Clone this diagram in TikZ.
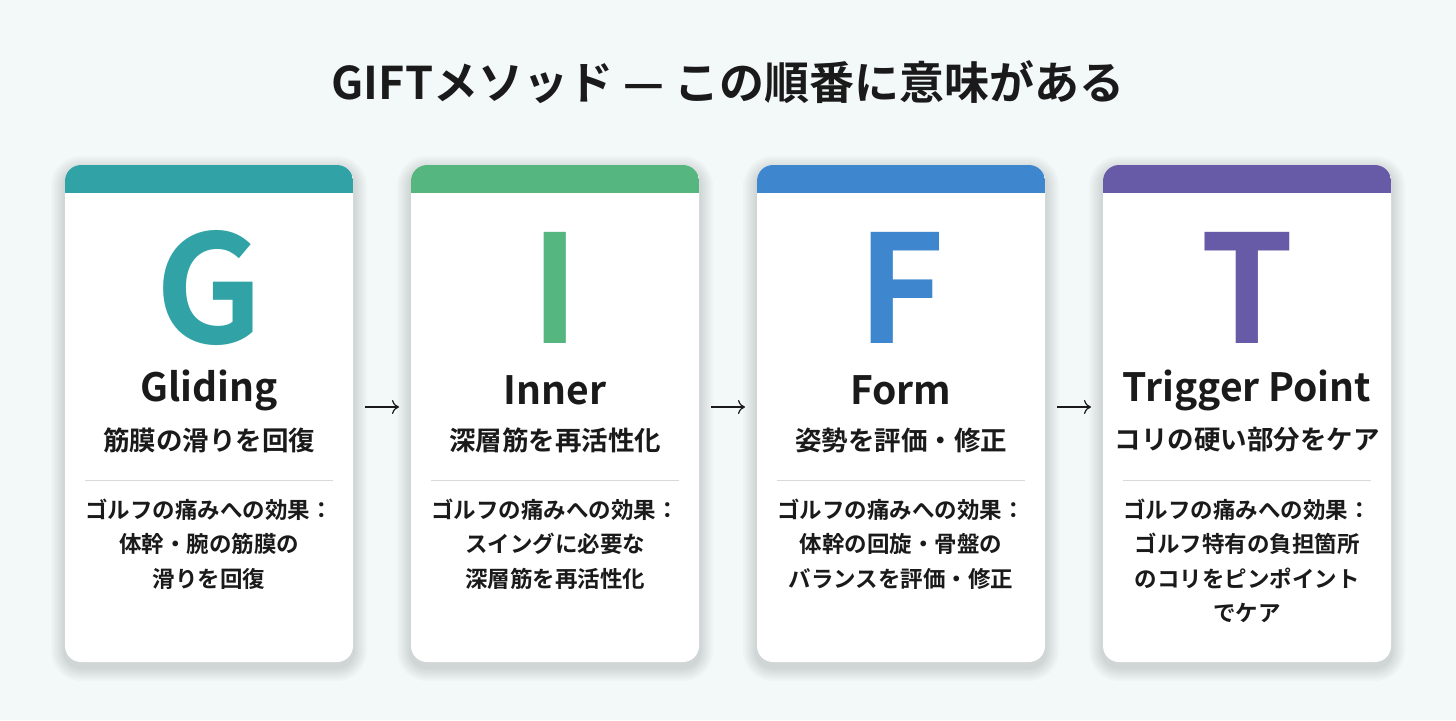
\documentclass[tikz,border=0pt]{standalone}
\usepackage{fontspec}
\setmainfont{Noto Sans CJK JP}[BoldFont={* Bold}]
\usetikzlibrary{arrows.meta}
\definecolor{bg}{HTML}{F3F8F9}
\definecolor{cG}{HTML}{31A3A6}
\definecolor{cI}{HTML}{55B77F}
\definecolor{cF}{HTML}{3E87CF}
\definecolor{cT}{HTML}{675AA6}
\definecolor{txt}{HTML}{1A1A1A}
\tikzset{
 card/.style={fill=white},
 shadowlayer/.style={fill=black,fill opacity=0.018},
 bigletter/.style={font=\fontsize{150}{150}\selectfont\bfseries},
 cardname/.style={font=\fontsize{39}{44}\selectfont\bfseries,text=txt},
 cardsub/.style={font=\fontsize{26.5}{30}\selectfont\bfseries,text=txt},
 cardeff/.style={font=\fontsize{22.5}{34.5}\selectfont\bfseries,text=txt,align=center,anchor=north},
 arr/.style={-{To[length=7pt,width=14pt]},line width=1.2pt,draw=txt}
}
\begin{document}
\begin{tikzpicture}[x=1pt,y=-1pt]
\fill[bg] (0,0) rectangle (1456,720);
\useasboundingbox (0,0) rectangle (1456,720);
\node[font=\fontsize{45}{50}\selectfont\bfseries,text=txt] (title) at (728,82) {GIFTメソッド — この順番に意味がある};
\foreach \i/\x/\c/\L/\N/\S/\E in {
 1/65/cG/G/Gliding/筋膜の滑りを回復/{ゴルフの痛みへの効果：\\体幹・腕の筋膜の\\滑りを回復},
 2/411/cI/I/Inner/深層筋を再活性化/{ゴルフの痛みへの効果：\\スイングに必要な\\深層筋を再活性化},
 3/757/cF/F/Form/姿勢を評価・修正/{ゴルフの痛みへの効果：\\体幹の回旋・骨盤の\\バランスを評価・修正},
 4/1103/cT/T/Trigger Point/コリの硬い部分をケア/{ゴルフの痛みへの効果：\\ゴルフ特有の負担箇所\\のコリをピンポイント\\でケア}}{
 \foreach \k in {2,4,...,14}{
  \fill[shadowlayer,rounded corners=16pt+\k pt] (\x-\k,165-\k+5) rectangle (\x+288+\k,662+\k+5);
 }
 \path[card,rounded corners=16pt] (\x,165) rectangle ++(288,497);
 \begin{scope}
  \clip[rounded corners=16pt] (\x,165) rectangle ++(288,497);
  \fill[\c] (\x,160) rectangle ++(288,33);
 \end{scope}
 \node[bigletter,text=\c] (L\i) at (\x+144,288) {\L};
 \node[cardname] (N\i) at (\x+144,390) {\N};
 \node[cardsub] (S\i) at (\x+144,440) {\S};
 \draw[gray!30,line width=1pt] (\x+20,480) -- (\x+268,480);
 \node[cardeff] (E\i) at (\x+144,495) {\E};
}
\foreach \i/\x in {1/365,2/711,3/1057}{
 \coordinate (a\i) at (\x,407); \coordinate (b\i) at (\x+34,407);
 \draw[arr] (a\i) -- (b\i);
}
\end{tikzpicture}
\end{document}
